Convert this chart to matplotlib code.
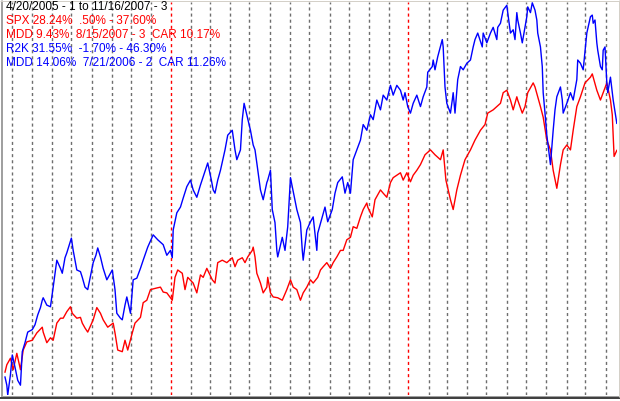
import numpy as np
import matplotlib
matplotlib.use("Agg")
import matplotlib.pyplot as plt
from matplotlib.lines import Line2D

# ---- data (trading-day offset from 4/20/2005, % change) ----
start_date = "2005-04-20"
end_date = "2007-11-16"

r2k_day = [0, 2, 3, 6, 8, 11, 14, 17, 19, 22, 25, 30, 33, 36, 39, 41, 42, 46, 50, 53,
           57, 61, 63, 66, 68, 73, 75, 79, 83, 85, 88, 91, 97, 100, 102, 105, 108, 112, 118, 121,
           123, 127, 129, 132, 134, 138, 141, 145, 149, 152, 157, 163, 168, 174, 178, 182, 184, 185, 189, 193,
           196, 200, 204, 207, 211, 215, 218, 223, 227, 229, 231, 234, 237, 242, 245, 250, 253, 255, 259, 261,
           263, 266, 270, 273, 275, 277, 281, 284, 288, 289, 292, 294, 297, 299, 300, 305, 308, 311, 314, 316,
           319, 321, 325, 327, 328, 332, 336, 339, 343, 344, 349, 352, 355, 360, 363, 366, 371, 374, 377, 380,
           383, 387, 391, 394, 398, 402, 405, 409, 413, 416, 420, 424, 427, 431, 435, 438, 440, 443, 446, 449,
           453, 457, 460, 464, 465, 470, 471, 473, 476, 481, 482, 484, 486, 490, 492, 493, 495, 498, 501, 504,
           508, 512, 515, 517, 520, 525, 526, 530, 534, 537, 541, 542, 545, 548, 552, 553, 556, 559, 561, 563,
           564, 567, 569, 572, 574, 575, 578, 580, 583, 585, 586, 589, 591, 592, 594, 596, 600, 603, 605, 607,
           611, 613, 614, 618, 622, 625, 629, 630, 633, 636, 640, 644, 646, 647, 649, 651, 652, 655, 657, 658,
           660, 662, 663, 666, 669, 673]
r2k_pct = [0.5, -0.5, -1.7, 0.8, 3.2, 1.7, 0.1, -0.5, 3.6, 4.7, 6.0, 6.3, 6.9, 8.1, 9.0, 9.9, 10.2, 9.3, 9.1, 11.5,
           14.8, 13.8, 13.2, 15.1, 15.7, 17.5, 16.0, 13.6, 13.4, 12.7, 11.5, 11.2, 14.5, 15.4, 16.3, 15.2, 13.8, 12.4, 13.6, 11.2,
           8.3, 7.7, 7.5, 9.3, 10.3, 8.3, 12.4, 12.6, 13.8, 14.8, 16.4, 17.9, 17.3, 16.7, 15.4, 16.0, 15.1, 18.5, 20.6, 21.3,
           22.4, 23.8, 24.6, 23.4, 22.5, 24.0, 25.0, 26.7, 24.6, 23.4, 23.0, 24.6, 25.8, 28.3, 30.1, 30.7, 28.3, 27.1, 28.3, 32.0,
           34.0, 32.6, 30.7, 28.9, 28.3, 26.7, 23.4, 22.2, 24.3, 24.6, 25.8, 21.0, 19.4, 16.0, 15.2, 17.6, 16.0, 18.9, 24.9, 23.8,
           22.2, 21.0, 19.4, 16.0, 14.8, 18.5, 19.5, 20.1, 16.0, 18.1, 20.1, 21.3, 19.5, 21.0, 23.0, 24.3, 25.0, 23.0, 24.3, 23.0,
           27.1, 28.3, 29.5, 31.4, 30.7, 32.6, 32.0, 34.4, 33.2, 35.0, 34.4, 36.2, 35.0, 36.2, 35.6, 34.4, 35.3, 33.6, 32.8, 34.0,
           35.0, 33.6, 34.8, 36.0, 37.8, 38.5, 39.3, 38.1, 39.7, 41.8, 40.9, 36.0, 34.0, 32.8, 34.4, 35.3, 32.8, 36.9, 38.5, 38.1,
           38.9, 39.3, 40.9, 41.8, 42.6, 40.9, 42.6, 41.4, 42.6, 43.3, 41.8, 43.3, 43.8, 45.4, 46.0, 45.1, 42.6, 43.0, 41.8, 45.1,
           44.2, 42.6, 41.4, 43.3, 44.6, 45.8, 45.1, 46.3, 45.4, 44.2, 42.6, 40.9, 38.5, 35.3, 32.8, 30.1, 26.5, 30.7, 33.2, 34.8,
           36.0, 34.4, 32.8, 34.0, 35.3, 34.4, 36.9, 39.3, 38.9, 38.1, 42.6, 44.6, 44.8, 43.8, 44.2, 41.4, 40.5, 38.5, 38.1, 40.5,
           40.9, 36.5, 35.3, 37.2, 34.4, 31.55]

spx_day = [0, 2, 6, 9, 13, 17, 20, 24, 30, 35, 41, 42, 46, 50, 53, 57, 61, 64, 68, 72,
           74, 79, 83, 85, 88, 91, 97, 101, 105, 108, 113, 119, 121, 124, 129, 132, 135, 140, 143, 149,
           152, 156, 160, 167, 171, 174, 178, 182, 184, 187, 190, 195, 198, 201, 207, 211, 215, 218, 222, 228,
           231, 234, 239, 244, 250, 253, 256, 261, 264, 267, 272, 273, 275, 277, 281, 284, 288, 289, 292, 295,
           300, 305, 310, 314, 317, 321, 325, 328, 332, 336, 339, 344, 347, 350, 354, 358, 361, 365, 369, 372,
           376, 380, 383, 387, 391, 394, 398, 399, 404, 407, 413, 416, 420, 424, 427, 431, 435, 438, 442, 446,
           449, 453, 457, 462, 468, 473, 479, 482, 485, 490, 493, 497, 501, 506, 512, 517, 523, 528, 531, 537,
           545, 548, 552, 556, 559, 563, 564, 569, 572, 575, 581, 583, 586, 589, 592, 596, 600, 603, 607, 611,
           614, 618, 622, 625, 629, 633, 638, 644, 646, 651, 655, 658, 662, 666, 668, 670, 673]
spx_pct = [1.1, 2.0, 2.8, 1.4, 3.4, 1.4, 3.8, 4.8, 5.0, 5.9, 6.6, 6.0, 4.7, 5.3, 5.0, 7.1, 7.7, 7.7, 8.5, 9.1,
           8.3, 7.7, 7.8, 7.1, 6.5, 6.0, 7.5, 9.0, 8.3, 7.5, 6.6, 7.1, 5.9, 3.8, 3.6, 5.0, 3.8, 5.9, 7.1, 7.8,
           9.6, 9.9, 11.2, 11.4, 11.5, 10.9, 10.8, 10.2, 9.9, 12.7, 13.6, 13.2, 11.2, 12.7, 12.0, 10.8, 13.0, 12.7, 13.8, 12.4,
           12.0, 14.5, 14.8, 14.5, 15.1, 14.0, 14.8, 15.1, 14.5, 15.2, 16.0, 16.4, 15.2, 13.2, 12.0, 10.8, 11.5, 12.7, 10.8, 10.3,
           10.2, 9.9, 11.2, 12.4, 11.5, 11.2, 9.9, 10.8, 11.5, 12.4, 12.0, 12.7, 13.6, 14.0, 14.5, 13.8, 14.5, 15.2, 16.0, 16.0,
           17.3, 17.6, 18.9, 18.7, 20.1, 21.0, 21.8, 21.3, 20.1, 22.2, 23.4, 23.0, 22.5, 24.3, 24.9, 25.2, 25.5, 24.6, 25.5, 24.4,
           25.2, 25.8, 26.5, 27.7, 28.3, 27.7, 27.1, 28.3, 24.6, 22.2, 21.0, 23.4, 25.2, 27.1, 28.3, 29.5, 30.7, 31.4, 32.8, 33.2,
           34.0, 35.3, 35.6, 34.4, 33.2, 34.8, 34.4, 32.8, 33.6, 35.3, 36.5, 36.0, 34.8, 33.6, 32.3, 29.5, 28.3, 25.8, 23.6, 26.5,
           28.3, 28.9, 28.3, 30.7, 33.6, 34.8, 36.5, 37.2, 37.6, 35.6, 34.4, 35.3, 36.5, 34.4, 32.6, 27.5, 28.24]

legend_lines = [
    ("4/20/2005 - 1 to 11/16/2007 - 3", "#000000"),
    ("SPX 28.24%  .50% - 37.60%", "#ff0000"),
    ("MDD 9.43%  8/15/2007 - 3  CAR 10.17%", "#ff0000"),
    ("R2K 31.55%  -1.70% - 46.30%", "#0000ff"),
    ("MDD 14.06%  7/21/2006 - 2  CAR 11.26%", "#0000ff"),
]

# ---- figure ----
W, H = 620, 401
fig = plt.figure(figsize=(W / 100, H / 100), dpi=100)
fig.patch.set_facecolor("white")

ax = fig.add_axes([3 / W, (H - 395) / H, 614 / W, 393 / H])
ax.set_xlim(-2.2, 673.2)
ax.set_ylim(-1.7, 46.4)
ax.set_axis_off()

# month separators (first weekday of each month)
months = np.arange(np.datetime64("2005-05"), np.datetime64("2007-12"))
for m in months:
    first = np.busday_offset(m.astype("datetime64[D]"), 0, roll="forward")
    d = np.busday_count(np.datetime64(start_date), first)
    is_jan = str(m).endswith("-01")
    ax.axvline(d, color="#ff0000" if is_jan else "#6e6e6e", lw=1.0,
               dashes=(2.2, 2.2), zorder=1)

ax.plot(spx_day, spx_pct, color="#ff0000", lw=1.0, zorder=3)
ax.plot(r2k_day, r2k_pct, color="#0000ff", lw=1.0, zorder=4)

for i, (txt, col) in enumerate(legend_lines):
    fig.text(6 / W, 1 - (7 + i * 14) / H, txt, color=col, fontsize=8.5,
             family="Liberation Sans", va="center", ha="left")

# 3D frame
def hline(y, x0, x1, c, lw=1):
    fig.add_artist(Line2D([x0 / W, x1 / W], [1 - y / H, 1 - y / H], color=c, lw=lw * 0.72,
                          transform=fig.transFigure, solid_capstyle="butt"))

def vline(x, y0, y1, c, lw=1):
    fig.add_artist(Line2D([x / W, x / W], [1 - y0 / H, 1 - y1 / H], color=c, lw=lw * 0.72,
                          transform=fig.transFigure, solid_capstyle="butt"))

vline(0.5, 0, 397, "#a0a0a0")
vline(1.5, 0, 396, "#a0a0a0")
hline(0.5, 0, 620, "#d4d0c8")
hline(395.5, 1, 619, "#a0a0a0")
hline(396.5, 0, 620, "#d4d0c8")
hline(398, 0, 620, "#404040", lw=2)
hline(400.5, 0, 620, "#808080")
vline(618.5, 0, 397, "#d4d0c8")
vline(619.5, 0, 401, "#808080")

fig.savefig("out.png", dpi=100)
